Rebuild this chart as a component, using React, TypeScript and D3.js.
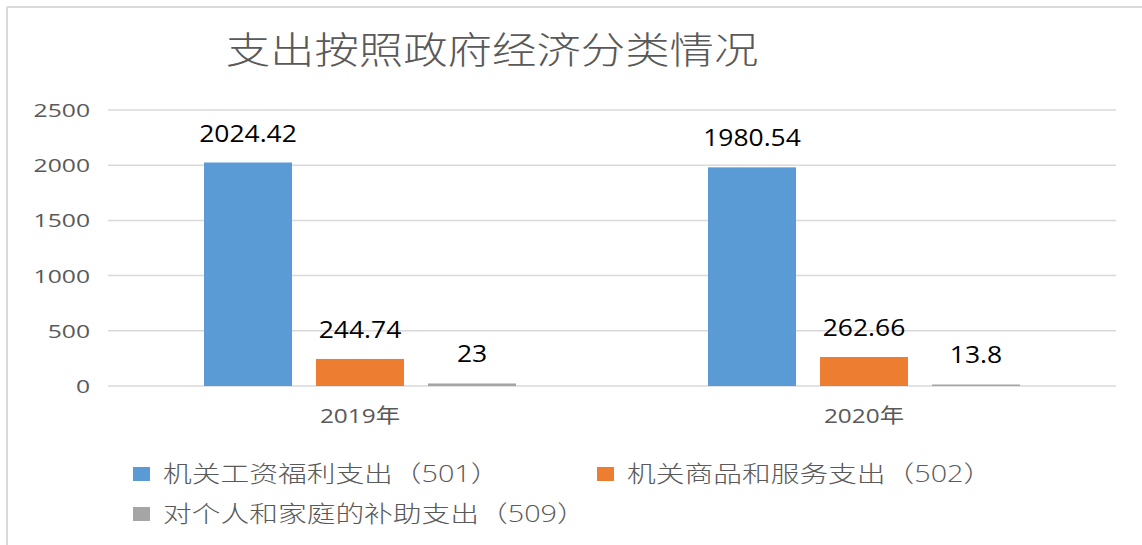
import * as d3 from "d3";
import React from "react";

const title = "支出按照政府经济分类情况";
const categories = ["2019年", "2020年"];
const seriesNames = ["机关工资福利支出（501）", "机关商品和服务支出（502）", "对个人和家庭的补助支出（509）"];
const seriesColors = ["#5B9BD5", "#ED7D31", "#A5A5A5"];
const wages = [2024.42, 1980.54];
const goods = [244.74, 262.66];
const subsidies = [23, 13.8];
const valueLabels = [["2024.42", "1980.54"], ["244.74", "262.66"], ["23", "13.8"]];
const yTicks = [0, 500, 1000, 1500, 2000, 2500];

const W = 1142;
const H = 545;
const FONT = "'Open Sans', 'Noto Sans CJK SC', sans-serif";

function St({ x, y, s, anchor, size, fill, weight, children }: any) {
  return (
    <text
      transform={`translate(${x},${y}) scale(${s},1)`}
      textAnchor={anchor}
      fontSize={size}
      fill={fill}
      fontWeight={weight || 400}
      fontFamily={FONT}
    >
      {children}
    </text>
  );
}

export default function App() {
  const series = [wages, goods, subsidies];
  const x0 = d3.scaleBand<string>().domain(categories).range([108, 1116]).padding(0);
  const x1 = d3
    .scaleBand<number>()
    .domain([0, 1, 2])
    .range([96, x0.bandwidth() - 96])
    .paddingInner(0.2143)
    .paddingOuter(0);
  const y = d3.scaleLinear().domain([0, 2500]).range([386, 110]);

  return (
    <svg width={W} height={H} style={{ position: "absolute", left: 0, top: 0, background: "#fff" }}>
      <rect x={0} y={0} width={W} height={H} fill="#fff" />
      <line x1={7} x2={W} y1={7} y2={7} stroke="#D9D9D9" strokeWidth={2} />
      <line x1={7} x2={7} y1={7} y2={H} stroke="#D9D9D9" strokeWidth={2} />

      <St x={492} y={64} s={1.2} anchor="middle" size={37} fill="#595959" weight={300}>
        {title}
      </St>

      {yTicks.map((t) => (
        <g key={t}>
          <line x1={108} x2={1116} y1={y(t)} y2={y(t)} stroke="#D9D9D9" strokeWidth={1.5} />
          <St x={90} y={y(t) + 7} s={1.3} anchor="end" size={19} fill="#595959">
            {t}
          </St>
        </g>
      ))}

      {categories.map((c, ci) => (
        <g key={c}>
          {series.map((vals, si) => {
            const bx = x0(c)! + x1(si)!;
            const by = y(vals[ci]);
            return (
              <g key={si}>
                <rect x={bx} y={by} width={x1.bandwidth()} height={y(0) - by} fill={seriesColors[si]} />
                <St x={bx + x1.bandwidth() / 2} y={by - 21} s={1.15} anchor="middle" size={23} fill="#000">
                  {valueLabels[si][ci]}
                </St>
              </g>
            );
          })}
          <St x={x0(c)! + x0.bandwidth() / 2} y={423} s={1.22} anchor="middle" size={20} fill="#595959">
            {c}
          </St>
        </g>
      ))}

      {seriesNames.map((name, i) => {
        const lx = i === 1 ? 597 : 133;
        const ly = i === 2 ? 514 : 474;
        return (
          <g key={name}>
            <rect x={lx} y={ly - 7} width={17} height={14} fill={seriesColors[i]} />
            <St x={lx + 30} y={ly + 8} s={1.25} anchor="start" size={23} fill="#595959" weight={300}>
              {name}
            </St>
          </g>
        );
      })}
    </svg>
  );
}
